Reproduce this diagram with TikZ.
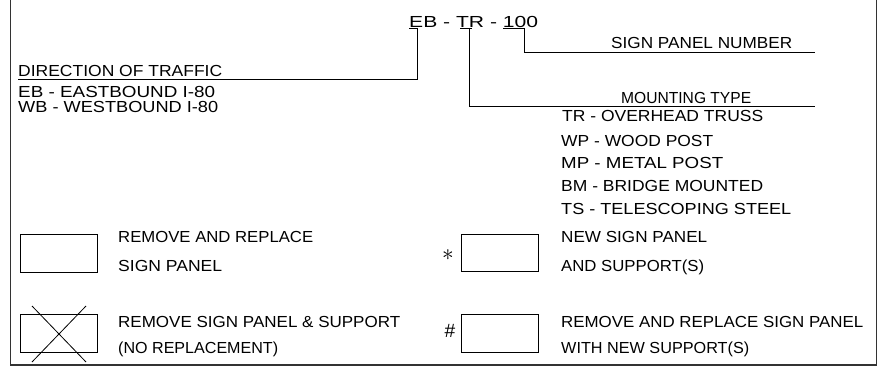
\documentclass[tikz,border=0pt]{standalone}
\usepackage{fontspec}
\setmainfont{Liberation Sans}
\usepackage{graphicx}
\newcommand{\fitw}[2]{\resizebox{#1pt}{\height}{#2}}
\tikzset{
  lbl/.style={anchor=base west, inner sep=0pt, font=\fontsize{16}{16}\selectfont},
  sym/.style={anchor=center, inner sep=0pt, font=\fontsize{16}{16}\selectfont},
  conn/.style={line width=0.8pt, black},
  panel/.style={line width=0.8pt, black},
  frame/.style={line width=1.4pt, black!80}
}
\begin{document}
\begin{tikzpicture}[x=1pt,y=-1pt]
\useasboundingbox (0,0) rectangle (883,371);
% frame (open at the top)
\draw[frame] (10.5,0) -- (10.5,365) -- (876.5,365) -- (876.5,0);

% code
\node[lbl] (code) at (409,28) {\fitw{129}{EB - TR - 100}};
\coordinate (ebA) at (409,28);
\coordinate (ebB) at (417.5,28);
\coordinate (ebC) at (417.5,79);
\coordinate (ebD) at (18,79);
\draw[conn] (ebA) -- (ebB) -- (ebC) -- (ebD);

\coordinate (trA) at (460,28);
\coordinate (trB) at (472,28);
\coordinate (trT) at (469,28);
\coordinate (trC) at (469,106);
\coordinate (trD) at (815,106);
\draw[conn] (trA) -- (trB);
\draw[conn] (trT) -- (trC) -- (trD);

\coordinate (nA) at (503,28);
\coordinate (nB) at (524,28);
\coordinate (nC) at (524,52);
\coordinate (nD) at (815,52);
\draw[conn] (nA) -- (nB) -- (nC) -- (nD);

% labels
\node[lbl] (spn) at (611,49) {\fitw{181}{SIGN PANEL NUMBER}};
\node[lbl] (dot) at (18,77) {\fitw{204}{DIRECTION OF TRAFFIC}};
\node[lbl] (eb) at (18,98) {\fitw{197}{EB - EASTBOUND I-80}};
\node[lbl] (wb) at (18,112.5) {\fitw{200}{WB - WESTBOUND I-80}};
\node[lbl] (mt) at (621,104) {\fitw{130}{MOUNTING TYPE}};
\node[lbl] (tr) at (562,122) {\fitw{201}{TR - OVERHEAD TRUSS}};
\node[lbl] (wp) at (561,147) {\fitw{152}{WP - WOOD POST}};
\node[lbl] (mp) at (561,169) {\fitw{162}{MP - METAL POST}};
\node[lbl] (bm) at (561,192) {\fitw{202}{BM - BRIDGE MOUNTED}};
\node[lbl] (ts) at (561,215) {\fitw{230}{TS - TELESCOPING STEEL}};

% legend panels
\node[panel, draw, minimum width=77pt, minimum height=38pt, inner sep=0pt] (p1) at (58.5,253) {};
\node[panel, draw, minimum width=77pt, minimum height=38pt, inner sep=0pt] (p2) at (58.5,333) {};
\coordinate (x1) at (32,306);
\coordinate (x2) at (86,362);
\coordinate (x3) at (86,306);
\coordinate (x4) at (32,362);
\draw[panel] (x1) -- (x2);
\draw[panel] (x3) -- (x4);
\node[panel, draw, minimum width=77pt, minimum height=37pt, inner sep=0pt] (p3) at (499.5,252.5) {};
\node[panel, draw, minimum width=77pt, minimum height=38pt, inner sep=0pt] (p4) at (499.5,333) {};

\node[sym] (ast) at (448,255) {\scalebox{1.35}{$\ast$}};
\node[sym] (hsh) at (450,331) {\scalebox{1.2}{\#}};

\node[lbl] (l1a) at (118,243) {\fitw{195}{REMOVE AND REPLACE}};
\node[lbl] (l1b) at (118,272) {\fitw{104}{SIGN PANEL}};
\node[lbl] (l2a) at (118,327) {\fitw{282}{REMOVE SIGN PANEL \& SUPPORT}};
\node[lbl] (l2b) at (118,353) {\fitw{160}{(NO REPLACEMENT)}};
\node[lbl] (l3a) at (561,243) {\fitw{146}{NEW SIGN PANEL}};
\node[lbl] (l3b) at (561,272) {\fitw{143}{AND SUPPORT(S)}};
\node[lbl] (l4a) at (561,327) {\fitw{302}{REMOVE AND REPLACE SIGN PANEL}};
\node[lbl] (l4b) at (561,353) {\fitw{188}{WITH NEW SUPPORT(S)}};
\end{tikzpicture}
\end{document}
